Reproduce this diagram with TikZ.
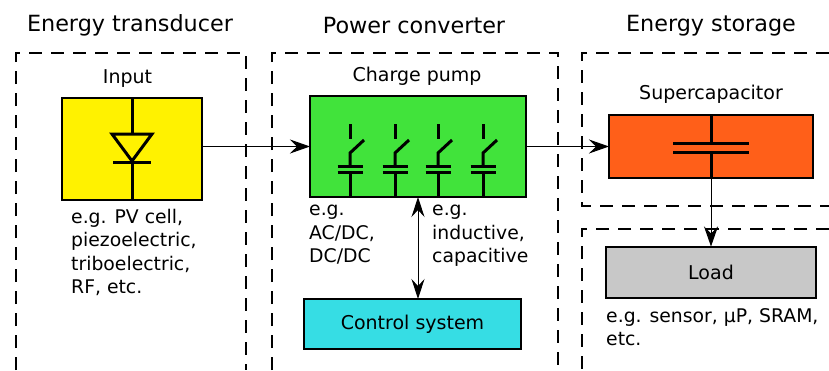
\documentclass[tikz,border=0pt]{standalone}
\usepackage{fontspec}
\setmainfont{DejaVu Sans}
\usepackage{xcolor}
\usetikzlibrary{arrows.meta}
\definecolor{inputyellow}{RGB}{255,242,0}
\definecolor{pumpgreen}{RGB}{65,227,59}
\definecolor{storeorange}{RGB}{255,95,25}
\definecolor{loadgray}{RGB}{200,200,200}
\definecolor{controlcyan}{RGB}{54,221,228}
\tikzset{
    blockbox/.style={draw, line width=2pt, inner sep=0pt, outer sep=0pt, font=\fontsize{19}{23}\selectfont},
    stagebox/.style={draw, line width=1.6pt, dash pattern=on 13pt off 9pt},
    symbolline/.style={line width=3pt},
    flowarrow/.style={-{Stealth[length=20pt,width=14pt,inset=7pt]}, line width=1pt},
    bothwayarrow/.style={{Stealth[length=20pt,width=13pt,inset=7pt]}-{Stealth[length=20pt,width=13pt,inset=7pt]}, line width=1pt},
    titlelabel/.style={font=\fontsize{22.3}{26}\selectfont, inner sep=0pt},
    smalllabel/.style={font=\fontsize{19}{23}\selectfont, inner sep=0pt},
    notelabel/.style={font=\fontsize{18.8}{23.4}\selectfont, inner sep=0pt, align=left, anchor=north west}
}
\begin{document}
\begin{tikzpicture}[x=1pt, y=-1pt]
    \useasboundingbox (0, 0) rectangle (829, 370);
    % Dashed stages
    \draw[stagebox] (16, 370) -- (16, 53) -- (246, 53) -- (246, 370);
    \draw[stagebox] (272, 370) -- (272, 53) -- (558, 53) -- (558, 370);
    \draw[stagebox] (829, 53) -- (582, 53) -- (582, 206) -- (829, 206);
    \draw[stagebox] (829, 229) -- (582, 229) -- (582, 370);
    % Stage titles
    \node[titlelabel] (transducertitle) at (130, 25) {Energy transducer};
    \node[titlelabel] (convertertitle) at (414, 26) {Power converter};
    \node[titlelabel] (storagetitle) at (711, 26) {Energy storage};
    % Blocks
    \node[blockbox, fill=inputyellow, minimum width=140pt, minimum height=102pt] (inputbox) at (132, 149) {};
    \node[blockbox, fill=pumpgreen, minimum width=216pt, minimum height=101pt] (pumpbox) at (418, 146.5) {};
    \node[blockbox, fill=storeorange, minimum width=204pt, minimum height=63pt] (capbox) at (711, 146.5) {};
    \node[blockbox, fill=loadgray, minimum width=210pt, minimum height=51pt] (loadbox) at (711, 272) {Load};
    \node[blockbox, fill=controlcyan, minimum width=217pt, minimum height=50pt] (controlbox) at (412.5, 324) {Control system};
    % Block labels
    \node[smalllabel] (inputlabel) at (127.5, 79) {Input};
    \node[smalllabel] (pumplabel) at (417, 76) {Charge pump};
    \node[smalllabel] (caplabel) at (711, 94) {Supercapacitor};
    % Notes
    \node[notelabel] (inputnote) at (71, 209) {e.g. PV cell,\\piezoelectric,\\triboelectric,\\RF, etc.};
    \node[notelabel] (pumpnoteleft) at (309, 205) {e.g.\\AC/DC,\\DC/DC};
    \node[notelabel] (pumpnoteright) at (432, 205) {e.g.\\inductive,\\capacitive};
    \node[notelabel] (loadnote) at (606, 308) {e.g. sensor, µP, SRAM,\\etc.};
    % Diode
    \draw[symbolline] (inputbox.north) -- (132, 134);
    \draw[symbolline, line join=miter] (112, 134) -- (152, 134) -- (132, 161) -- cycle;
    \draw[symbolline] (113, 162) -- (151, 162);
    \draw[symbolline] (132, 162) -- (inputbox.south);
    % Switched capacitors
    \foreach \xpos in {350, 395, 438, 483} {
        \draw[symbolline] (\xpos, 124) -- (\xpos, 139);
        \draw[symbolline] (\xpos + 14, 140) -- (\xpos, 153) -- (\xpos, 166);
        \draw[symbolline] (\xpos - 12.5, 166) -- (\xpos + 12.5, 166);
        \draw[symbolline] (\xpos - 12.5, 172) -- (\xpos + 12.5, 172);
        \draw[symbolline] (\xpos, 172) -- (\xpos, 197);
    }
    % Capacitor
    \draw[symbolline] (capbox.north) -- (capbox.center |- 0, 143);
    \draw[symbolline] (673, 143) -- (749, 143);
    \draw[symbolline] (673, 152) -- (749, 152);
    \draw[symbolline] (capbox.center |- 0, 152) -- (capbox.south);
    % Arrows
    \draw[flowarrow] (inputbox.east |- pumpbox.west) -- (pumpbox.west);
    \draw[flowarrow] (pumpbox.east) -- (capbox.west);
    \draw[flowarrow] (capbox.south) -- (loadbox.north);
    \draw[bothwayarrow] (pumpbox.south) -- (controlbox.north -| pumpbox.south);
\end{tikzpicture}
\end{document}
